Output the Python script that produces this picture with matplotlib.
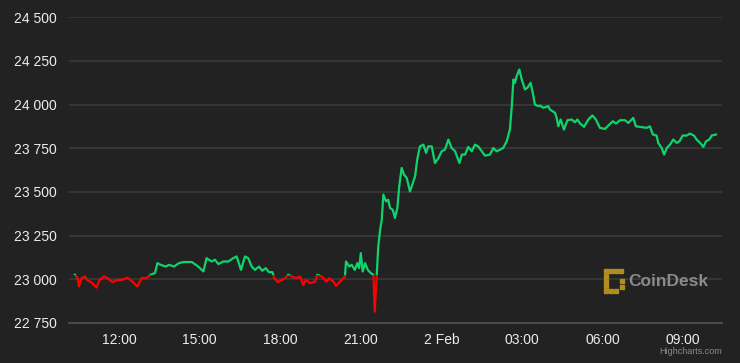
import matplotlib
matplotlib.use("Agg")
from matplotlib import pyplot as plt
from matplotlib.patches import Rectangle
from matplotlib.ticker import FuncFormatter, FixedLocator

# hours since 1 Feb 00:00 (UTC)
hours = [
    10.36, 10.46, 10.51, 10.61, 10.73, 10.82, 11.01, 11.16, 11.28, 11.44,
    11.57, 11.75, 11.94, 12.12, 12.31, 12.50, 12.68, 12.85, 13.02, 13.18,
    13.34, 13.43, 13.55, 13.74, 13.86, 14.05, 14.23, 14.42, 14.71, 14.95,
    15.14, 15.26, 15.45, 15.57, 15.70, 15.88, 16.07, 16.25, 16.38, 16.54,
    16.69, 16.81, 16.94, 17.06, 17.21, 17.33, 17.46, 17.58, 17.71, 17.78,
    17.91, 18.06, 18.18, 18.30, 18.45, 18.58, 18.74, 18.86, 18.96, 19.11,
    19.30, 19.38, 19.55, 19.73, 19.83, 19.98, 20.08, 20.23, 20.35, 20.41,
    20.45, 20.57, 20.66, 20.78, 20.87, 20.94, 21.00, 21.07, 21.16, 21.26,
    21.37, 21.47, 21.52, 21.59, 21.65, 21.72, 21.78, 21.84, 21.94, 22.02,
    22.09, 22.19, 22.27, 22.36, 22.43, 22.52, 22.61, 22.71, 22.83, 23.02,
    23.10, 23.20, 23.33, 23.43, 23.51, 23.64, 23.76, 23.89, 24.01, 24.13,
    24.26, 24.38, 24.51, 24.67, 24.76, 24.88, 25.00, 25.13, 25.25, 25.37,
    25.50, 25.62, 25.81, 25.93, 26.06, 26.18, 26.30, 26.43, 26.55, 26.62,
    26.68, 26.74, 26.80, 26.90, 26.99, 27.11, 27.20, 27.32, 27.40, 27.48,
    27.61, 27.67, 27.79, 27.98, 28.04, 28.23, 28.29, 28.35, 28.44, 28.56,
    28.69, 28.85, 28.97, 29.06, 29.16, 29.31, 29.47, 29.62, 29.75, 29.90,
    30.09, 30.21, 30.38, 30.50, 30.65, 30.83, 30.96, 31.14, 31.24, 31.46,
    31.64, 31.76, 31.87, 32.01, 32.07, 32.20, 32.29, 32.39, 32.51, 32.63,
    32.76, 32.86, 32.98, 33.13, 33.25, 33.40, 33.50, 33.63, 33.75, 33.85,
    33.97, 34.06, 34.22,
]
prices = [
    23026, 23007, 22959, 23007, 23016, 22997, 22978, 22953, 22997, 23016,
    23007, 22984, 22997, 22997, 23010, 22987, 22959, 23007, 23007, 23026,
    23036, 23093, 23083, 23073, 23083, 23073, 23093, 23099, 23099, 23073,
    23045, 23121, 23102, 23112, 23087, 23102, 23102, 23121, 23131, 23054,
    23131, 23121, 23073, 23054, 23073, 23049, 23064, 23041, 23041, 23007,
    22984, 22997, 23007, 23026, 23016, 23007, 23016, 22968, 22997, 22978,
    22987, 23026, 23016, 22987, 23007, 22987, 22963, 22987, 23007, 23016,
    23102, 23073, 23083, 23054, 23093, 23064, 23150, 23045, 23093, 23054,
    23036, 23026, 22815, 23016, 23188, 23284, 23341, 23485, 23446, 23456,
    23408, 23398, 23351, 23408, 23532, 23638, 23599, 23580, 23503, 23589,
    23685, 23761, 23771, 23724, 23761, 23761, 23666, 23694, 23733, 23742,
    23800, 23752, 23733, 23666, 23714, 23714, 23758, 23733, 23771, 23761,
    23733, 23708, 23714, 23752, 23733, 23742, 23752, 23790, 23857, 23991,
    24144, 24125, 24163, 24201, 24144, 24087, 24096, 24125, 24068, 24001,
    23991, 23995, 23982, 23991, 23972, 23953, 23924, 23876, 23915, 23857,
    23911, 23915, 23899, 23915, 23892, 23873, 23915, 23938, 23915, 23867,
    23861, 23880, 23905, 23892, 23911, 23911, 23895, 23924, 23876, 23871,
    23867, 23876, 23829, 23823, 23781, 23752, 23714, 23752, 23771, 23800,
    23781, 23790, 23823, 23823, 23834, 23823, 23800, 23781, 23758, 23790,
    23800, 23823, 23829,
]

x_ticks = [12, 15, 18, 21, 24, 27, 30, 33]
x_labels = ["12:00", "15:00", "18:00", "21:00", "2 Feb", "03:00", "06:00", "09:00"]
y_ticks = [22750, 23000, 23250, 23500, 23750, 24000, 24250, 24500]

BG = "#222222"
GREEN = "#0fd46c"
RED = "#ff0000"
TEXT = "#ececec"

plt.rcParams["font.family"] = ["Liberation Sans", "DejaVu Sans"]

fig = plt.figure(figsize=(7.4, 3.63), dpi=100, facecolor=BG)
ax = fig.add_axes([69 / 740, 40 / 363, (722 - 69) / 740, (323 - 17.3) / 363])
ax.set_facecolor(BG)

x0, x1 = 10.139, 34.444
ax.set_xlim(x0, x1)
ax.set_ylim(22750, 24500)

for y in y_ticks[1:]:
    ax.axhline(y, color="#3a3a3a", lw=1.2, zorder=1)
ax.axhline(22750, color="#4a4a4a", lw=1.5, zorder=1, clip_on=False)

open_price = prices[0]
up, = ax.plot(hours, prices, color=GREEN, lw=1.6, zorder=3)
down, = ax.plot(hours, prices, color=RED, lw=1.6, zorder=3)
up.set_clip_path(Rectangle((x0, open_price), x1 - x0, 5000, transform=ax.transData))
down.set_clip_path(Rectangle((x0, open_price - 5000), x1 - x0, 5000, transform=ax.transData))

for s in ax.spines.values():
    s.set_visible(False)

ax.yaxis.set_major_locator(FixedLocator(y_ticks))
ax.yaxis.set_major_formatter(FuncFormatter(lambda v, p: f"{int(v):,}".replace(",", " ")))
ax.set_xticks(x_ticks)
ax.set_xticklabels(x_labels)
ax.tick_params(axis="y", length=0, pad=9, labelsize=10, labelcolor=TEXT)
ax.tick_params(axis="x", length=0, pad=7, labelsize=10, labelcolor=TEXT)

# CoinDesk watermark
gold = "#b08d1e"
dots = [(606, 271), (611, 271), (616, 271), (621, 271), (606, 276), (606, 281),
        (606, 286), (606, 291), (611, 291), (616, 291), (622, 281), (622, 287)]
for dx, dy in dots:
    fig.patches.append(Rectangle((dx / 740 - 2 / 740, 1 - dy / 363 - 2 / 363), 4 / 740, 4 / 363,
                                 transform=fig.transFigure, color=gold, zorder=2))
fig.text(628 / 740, 1 - 282 / 363, "CoinDesk", color="#8a8a8a", fontsize=12.5,
         fontweight="bold", ha="left", va="center")
fig.text(722 / 740, 1 - 352 / 363, "Highcharts.com", color="#8c8c8c", fontsize=6.5,
         ha="right", va="center")

fig.savefig("out.png", dpi=100, facecolor=BG)
